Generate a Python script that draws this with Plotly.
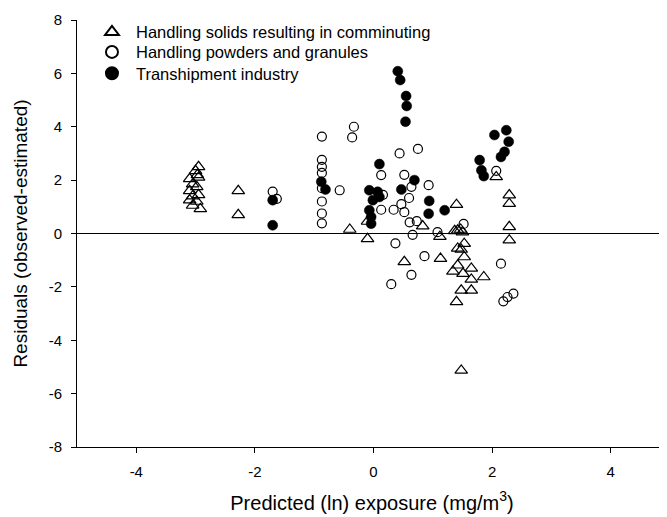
import plotly.graph_objects as go

# Handling solids resulting in comminuting (open triangles)
solids_x = [-2.95, -3.0, -2.97, -3.1, -2.95, -3.05, -2.98, -3.1, -2.95, -3.05, -3.1, -2.98, -3.05, -2.92,
            -2.28, -2.28, -0.4, -0.1, -0.1,
            0.52, 0.83, 1.12, 1.13, 1.4,
            1.37, 1.42, 1.47, 1.5,
            1.53, 1.42, 1.48, 1.53, 1.42, 1.34, 1.51, 1.65, 1.65, 1.86, 1.48, 1.65, 1.4, 1.48,
            2.07, 2.29, 2.29, 2.29, 2.29]
solids_y = [2.5, 2.35, 2.2, 2.05, 2.1, 1.85, 1.75, 1.6, 1.45, 1.4, 1.25, 1.2, 1.05, 0.92,
            1.6, 0.7, 0.15, -0.2, 0.45,
            -1.06, 0.28, -0.12, -0.94, 1.08,
            0.1, 0.12, 0.15, 0.05,
            -0.38, -0.56, -0.6, -0.88, -1.19, -1.42, -1.5, -1.31, -1.72, -1.63, -2.13, -2.13, -2.56, -5.13,
            2.12, 1.44, 1.12, 0.25, -0.25]

# Handling powders and granules (open circles)
powders_x = [-1.7, -1.63,
             -0.87, -0.87, -0.87, -0.87, -0.87, -0.87, -0.87, -0.87,
             -0.57, -0.33, -0.36,
             0.44, 0.75, 0.13, 0.52, 0.64, 0.93, 0.6, 0.13, 0.34, 0.47, 0.52, 0.61, 0.73, 0.16,
             0.66, 1.08, 1.52, 0.37, 0.86, 0.64, 0.3,
             2.07, 2.15, 2.36, 2.26, 2.19]
powders_y = [1.57, 1.3,
             3.63, 2.76, 2.5, 2.27, 1.7, 1.2, 0.75, 0.38,
             1.62, 4.0, 3.6,
             3.0, 3.17, 2.19, 2.2, 1.75, 1.81, 1.33, 0.89, 0.89, 1.1, 0.8, 0.42, 0.46, 1.45,
             -0.05, 0.05, 0.36, -0.37, -0.85, -1.55, -1.9,
             2.35, -1.13, -2.25, -2.38, -2.54]

# Transhipment industry (filled circles)
tranship_x = [-1.7, -1.7, -0.88, -0.81,
              -0.07, 0.07, -0.01, 0.1, -0.07, -0.04, -0.04, 0.1,
              0.41, 0.45, 0.55, 0.56, 0.54,
              0.69, 0.47, 0.94, 0.93, 1.2,
              2.04, 2.24, 2.28, 2.21, 2.15, 1.79, 1.82, 1.86]
tranship_y = [1.25, 0.31, 1.94, 1.65,
              1.62, 1.56, 1.25, 1.37, 0.87, 0.62, 0.37, 2.6,
              6.08, 5.75, 5.15, 4.78, 4.19,
              2.0, 1.65, 1.22, 0.74, 0.87,
              3.69, 3.87, 3.44, 3.06, 2.87, 2.75, 2.37, 2.15]

series_names = ["Handling solids resulting in comminuting",
                "Handling powders and granules",
                "Transhipment industry"]

x_ticks = [-4, -2, 0, 2, 4]
x_tick_labels = ["-4", "-2", "0", "2", "4"]
y_ticks = [-8, -6, -4, -2, 0, 2, 4, 6, 8]
y_tick_labels = ["-8", "-6", "-4", "-2", "0", "2", "4", "6", "8"]

FONT = "Liberation Sans, Arial, sans-serif"

fig = go.Figure()
fig.add_trace(go.Scatter(
    x=solids_x, y=solids_y, mode="markers", name=series_names[0], legend="legend",
    marker=dict(symbol="triangle-up-open", size=11, color="black", line=dict(width=1.2, color="black"))))
fig.add_trace(go.Scatter(
    x=powders_x, y=powders_y, mode="markers", name=series_names[1], legend="legend2",
    marker=dict(symbol="circle-open", size=9, color="black", line=dict(width=1.2, color="black"))))
fig.add_trace(go.Scatter(
    x=tranship_x, y=tranship_y, mode="markers", name=series_names[2], legend="legend3",
    marker=dict(symbol="circle", size=10, color="black", line=dict(width=0.5, color="black"))))

leg_common = dict(xanchor="left", yanchor="top", bgcolor="rgba(0,0,0,0)",
                  font=dict(size=16.5, family=FONT), itemsizing="constant", itemwidth=38)

fig.update_layout(
    width=659, height=509,
    margin=dict(l=69, r=0, t=12, b=70),
    paper_bgcolor="white", plot_bgcolor="white",
    font=dict(family=FONT, color="black", size=15),
    showlegend=True,
    legend=dict(x=0.0186, y=1.0124, **leg_common),
    legend2=dict(x=0.0186, y=0.9656, **leg_common),
    legend3=dict(x=0.0186, y=0.9157, **leg_common),
    xaxis=dict(range=[-5, 4.95], tickvals=x_ticks, ticktext=x_tick_labels,
               ticks="outside", ticklen=5, tickwidth=1,
               tickcolor="black", showline=True, linecolor="black", linewidth=1,
               showgrid=False, zeroline=False, mirror=False, automargin=False,
               tickfont=dict(size=15), ticklabelstandoff=6,
               title=dict(text="Predicted (ln) exposure (mg/m<sup>3</sup>)",
                          font=dict(size=20), standoff=16)),
    yaxis=dict(range=[-8, 8], tickvals=y_ticks, ticktext=y_tick_labels,
               ticks="outside", ticklen=5, tickwidth=1,
               tickcolor="black", showline=True, linecolor="black", linewidth=1,
               showgrid=False, zeroline=True, zerolinecolor="black", zerolinewidth=1,
               automargin=False,
               tickfont=dict(size=15), ticklabelstandoff=6,
               title=dict(text="Residuals (observed-estimated)",
                          font=dict(size=19), standoff=16)),
)

fig.write_html("out.html")
